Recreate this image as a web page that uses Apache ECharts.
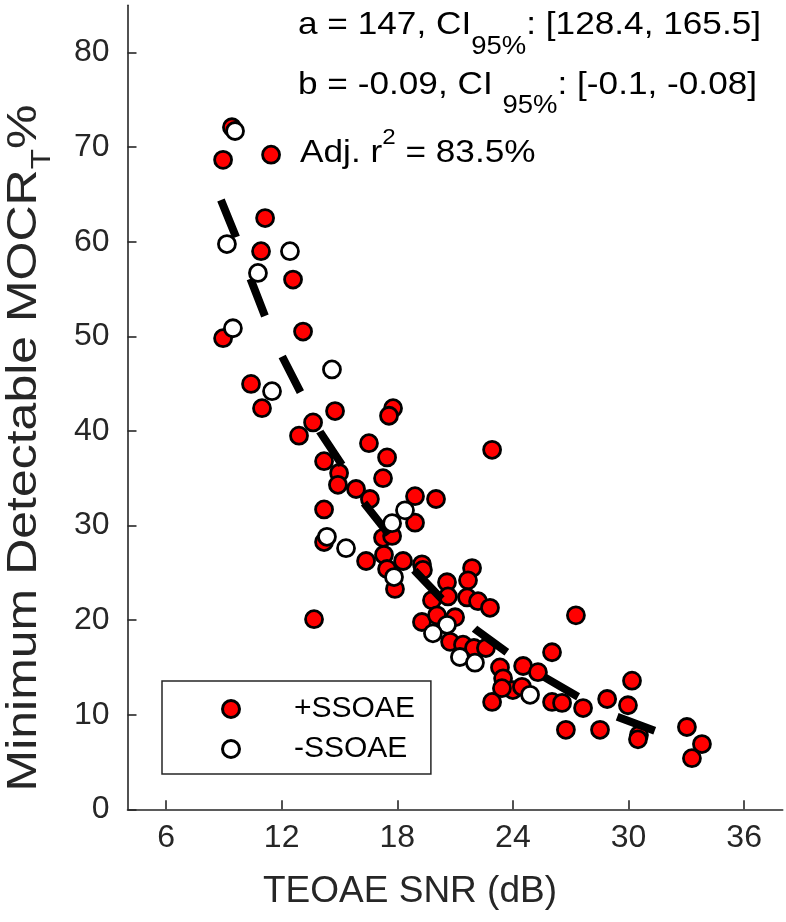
<!DOCTYPE html>
<html><head><meta charset="utf-8">
<script src="https://cdn.jsdelivr.net/npm/echarts@6/dist/echarts.min.js"></script>
<style>html,body{margin:0;padding:0;background:#fff}#c{width:786px;height:922px}</style>
</head><body><div id="c"></div>
<script>
// +SSOAE points
const posX = [8.96, 9.42, 11.45, 11.14, 10.93, 12.59, 8.96, 13.11, 10.41, 10.98, 13.63, 14.77, 12.90, 17.78, 17.57, 16.53, 17.47, 17.26, 14.20, 14.98, 14.92, 15.86, 16.58, 18.92, 20.01, 14.20, 18.92, 17.26, 17.73, 14.20, 16.38, 17.31, 18.30, 17.47, 19.28, 17.88, 19.33, 20.58, 20.63, 19.80, 21.88, 21.67, 21.62, 22.19, 22.81, 19.28, 20.06, 21.00, 20.74, 21.41, 21.98, 22.60, 23.33, 24.53, 25.30, 26.03, 27.27, 22.92, 13.68, 23.49, 24.00, 24.47, 23.43, 22.92, 26.03, 26.55, 27.64, 28.89, 29.97, 30.18, 26.75, 28.52, 30.54, 30.49, 33.03, 33.81, 33.29];
const posY = [68.65, 72.1, 69.2, 62.5, 59.0, 56.0, 49.8, 50.5, 44.97, 42.4, 40.9, 42.1, 39.5, 42.4, 41.6, 38.7, 37.2, 35.0, 36.8, 35.55, 34.3, 33.86, 32.8, 33.1, 32.8, 31.7, 30.3, 28.7, 28.9, 28.25, 26.25, 26.9, 26.25, 25.4, 25.9, 23.3, 25.3, 24.0, 22.5, 22.1, 25.5, 24.2, 22.4, 22.0, 21.3, 19.8, 20.5, 20.3, 17.7, 17.4, 17.05, 17.05, 15.0, 15.15, 14.5, 16.6, 20.5, 38.0, 20.1, 13.85, 12.6, 12.95, 12.8, 11.35, 11.35, 11.25, 10.7, 11.66, 11.0, 13.6, 8.4, 8.4, 7.85, 7.4, 8.7, 6.9, 5.4];
// -SSOAE points
const negX = [9.58, 9.16, 12.43, 10.77, 9.47, 11.50, 14.61, 18.40, 17.73, 14.35, 15.34, 17.83, 20.58, 19.85, 21.25, 22.03, 24.89];
const negY = [71.7, 59.75, 59.0, 56.7, 50.85, 44.2, 46.5, 31.6, 30.25, 28.8, 27.6, 24.55, 19.5, 18.6, 16.1, 15.5, 12.1];
// fitted curve
const fitX = [8.85, 9.63, 10.36, 11.14, 12.02, 13.0, 13.99, 15.13, 16.27, 17.47, 18.92, 20.27, 22.03, 23.75, 25.61, 27.38, 29.4, 31.37];
const fitY = [64.4, 60.5, 56.2, 52.1, 47.9, 44.0, 39.9, 36.4, 32.4, 29.3, 25.2, 22.3, 19.06, 16.5, 14.0, 11.9, 9.78, 8.3];
const xTicks = [6, 12, 18, 24, 30, 36];
const yTicks = [0, 10, 20, 30, 40, 50, 60, 70, 80];
const seriesNames = ['+SSOAE', '-SSOAE'];
const xTitle = 'TEOAE SNR (dB)';
const yTitleMain = 'Minimum Detectable MOCR', yTitleSub = 'T', yTitleEnd = '%';
const ann1 = ['a = 147, CI', '95%', ': [128.4, 165.5]'];
const ann2 = ['b = -0.09, CI ', '95%', ': [-0.1, -0.08]'];
const ann3 = ['Adj. r', '2', ' = 83.5%'];

const zip = (a, b) => a.map((v, i) => [v, b[i]]);
const AX = '#262626';
const FONT = 'Liberation Sans, Arial, Helvetica, sans-serif';

function annText(parts, subPad, x, y, isSup) {
  const rich = isSup ? {
    m: {fontSize: 32, fontFamily: FONT, fill: '#000', verticalAlign: 'top', padding: [10, 0, 0, 0]},
    s: {fontSize: 22, fontFamily: FONT, fill: '#000', verticalAlign: 'top'}
  } : {
    m: {fontSize: 32, fontFamily: FONT, fill: '#000', verticalAlign: 'top'},
    s: {fontSize: 25, fontFamily: FONT, fill: '#000', verticalAlign: 'top', padding: [subPad, 0, 0, 0]}
  };
  return {type: 'text', x: x, y: y, scaleX: 1.1, silent: true,
    style: {text: '{m|' + parts[0] + '}{s|' + parts[1] + '}{m|' + parts[2] + '}', textAlign: 'left', textVerticalAlign: 'top', rich: rich}};
}

const chart = echarts.init(document.getElementById('c'), null, {renderer: 'canvas'});
chart.setOption({
  animation: false,
  backgroundColor: '#fff',
  grid: {left: 127.5, right: 3.3, top: 5.2, bottom: 112.7, outerBoundsMode: 'none'},
  xAxis: {
    type: 'value', min: 4, max: 38,
    axisLine: {show: true, onZero: false, lineStyle: {color: AX, width: 1.6}},
    axisTick: {show: true, inside: true, length: 9, customValues: xTicks, lineStyle: {color: AX, width: 1.6}},
    axisLabel: {customValues: xTicks, color: AX, fontSize: 32, fontFamily: FONT, margin: 13},
    splitLine: {show: false}
  },
  yAxis: {
    type: 'value', min: 0, max: 85,
    axisLine: {show: true, onZero: false, lineStyle: {color: AX, width: 1.6}},
    axisTick: {show: true, inside: true, length: 9, customValues: yTicks, lineStyle: {color: AX, width: 1.6}},
    axisLabel: {customValues: yTicks, color: AX, fontSize: 32, fontFamily: FONT, margin: 18},
    splitLine: {show: false}
  },
  legend: {
    data: seriesNames,
    orient: 'vertical', left: 162, top: 681,
    padding: [13, 16, 10, 59], itemGap: 10,
    itemWidth: 116, itemHeight: 17,
    borderColor: AX, borderWidth: 1.5, borderRadius: 0,
    itemStyle: {borderWidth: 3, borderColor: '#000'},
    textStyle: {fontSize: 30, fontFamily: FONT, color: '#000', lineHeight: 30},
    selectedMode: false
  },
  series: [
    {name: seriesNames[0], type: 'scatter', data: zip(posX, posY), symbol: 'circle', symbolSize: 17,
     itemStyle: {color: '#ff0000', borderColor: '#000', borderWidth: 2.8, opacity: 1}, z: 2},
    {type: 'line', data: zip(fitX, fitY), showSymbol: false, symbol: 'none', silent: true,
     lineStyle: {color: '#000', width: 8, type: [40, 44], cap: 'butt'}, z: 3},
    {name: seriesNames[1], type: 'scatter', data: zip(negX, negY), symbol: 'circle', symbolSize: 17,
     itemStyle: {color: '#fff', borderColor: '#000', borderWidth: 2.8, opacity: 1}, z: 4}
  ],
  graphic: [
    {type: 'text', x: 410, y: 892, silent: true, style: {text: xTitle, fill: AX, font: '37px ' + FONT, textAlign: 'center', textVerticalAlign: 'middle'}},
    {type: 'text', x: 3, y: 448, rotation: Math.PI / 2, scaleX: 1.19, silent: true,
     style: {text: '{m|' + yTitleMain + '}{s|' + yTitleSub + '}{m|' + yTitleEnd + '}', textAlign: 'center', textVerticalAlign: 'top',
       rich: {m: {fontSize: 42, fontFamily: FONT, fill: AX, verticalAlign: 'top'},
              s: {fontSize: 28, fontFamily: FONT, fill: AX, verticalAlign: 'top', padding: [25, 0, 0, 0]}}}},
    annText(ann1, 25.5, 298, 9, false),
    annText(ann2, 24.5, 298, 69, false),
    annText(ann3, 0, 300, 127, true)
  ]
});
</script></body></html>
